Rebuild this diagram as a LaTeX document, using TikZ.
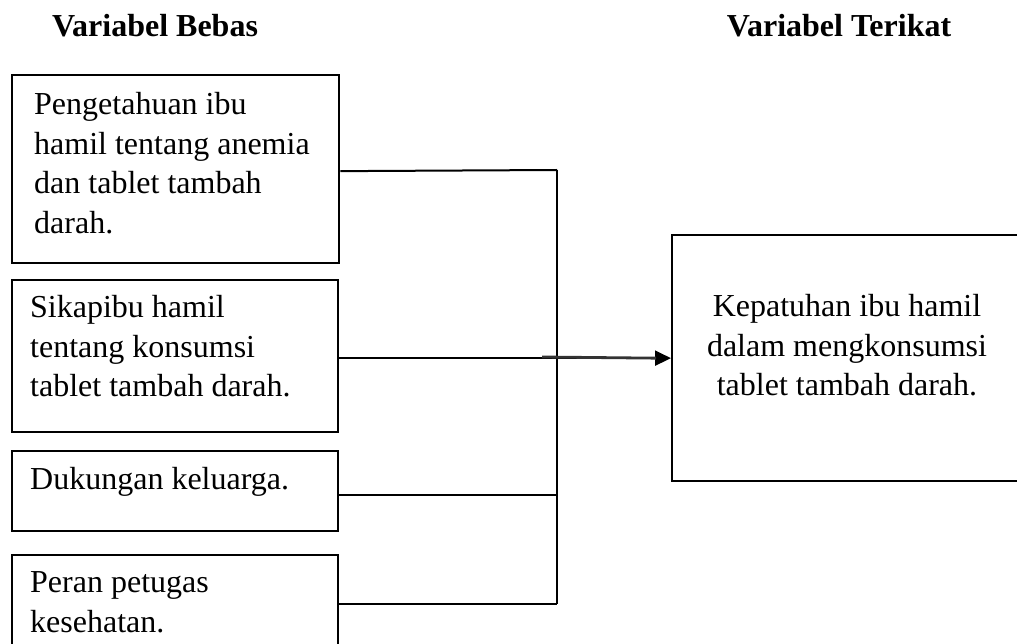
\documentclass[tikz,border=0pt]{standalone}
\usepackage{fontspec}
\setmainfont{Liberation Serif}
\usetikzlibrary{arrows.meta}
\tikzset{
  boxnode/.style={draw=black, line width=2.3pt, rectangle, inner sep=0pt, anchor=north west},
  txtnode/.style={inner sep=0pt, font=\fontsize{32}{39.5}\selectfont, align=left},
  titlenode/.style={inner sep=0pt, font=\fontsize{32}{39.5}\selectfont\bfseries, anchor=base},
  conn/.style={draw=black, line width=2pt},
  busline/.style={draw=black, line width=1.7pt},
}
\begin{document}
\begin{tikzpicture}[x=1pt,y=-1pt]
\useasboundingbox (0,0) rectangle (1017,644);
\fill[white] (0,0) rectangle (1017,644);
\clip (0,0) rectangle (1017,644);

% titles
\node[titlenode] (tb) at (155,37) {Variabel Bebas};
\node[titlenode] (tt) at (839,37) {Variabel Terikat};

% left boxes
\node[boxnode, minimum width=327pt, minimum height=188pt] (b1) at (11,74) {};
\node[boxnode, minimum width=326pt, minimum height=152pt] (b2) at (11,279) {};
\node[boxnode, minimum width=326pt, minimum height=80pt] (b3) at (11,450) {};
\node[boxnode, minimum width=326pt, minimum height=130pt] (b4) at (11,554) {};

\node[txtnode, anchor=north west] (t1) at (34,87) {\strut Pengetahuan ibu\\hamil tentang anemia\\dan tablet tambah\\darah.};
\node[txtnode, anchor=north west] (t2) at (30,290) {\strut Sikapibu hamil\\tentang konsumsi\\tablet tambah darah.};
\node[txtnode, anchor=north west] (t3) at (30,462) {\strut Dukungan keluarga.};
\node[txtnode, anchor=north west] (t4) at (30,565) {\strut Peran petugas\\kesehatan.};

% right box
\node[boxnode, minimum width=370pt, minimum height=246pt] (r) at (671,234) {};
\node[txtnode, align=center, anchor=north] (tr) at (847,289) {\strut Kepatuhan ibu hamil\\dalam mengkonsumsi\\tablet tambah darah.};

% bus
\coordinate (bt) at (557,170);
\coordinate (bb) at (557,604);
\coordinate (thk) at (542,357);

\draw[conn] ([yshift=-2pt]b1.east) -- (bt);
\draw[busline] (bt) -- (bb);
\draw[conn] ([yshift=-4pt]b3.east) -- ([yshift=-4pt]b3.east -| bt);
\draw[conn] ([yshift=-50pt]b4.north east) -- (bb);
\draw[conn, -{Triangle[length=16pt,width=15pt]}] (b2.east |- r.west) -- (r.west);
\draw[line width=2.8pt, black!80] (thk) -- ([xshift=-15pt]r.west);
\end{tikzpicture}
\end{document}
